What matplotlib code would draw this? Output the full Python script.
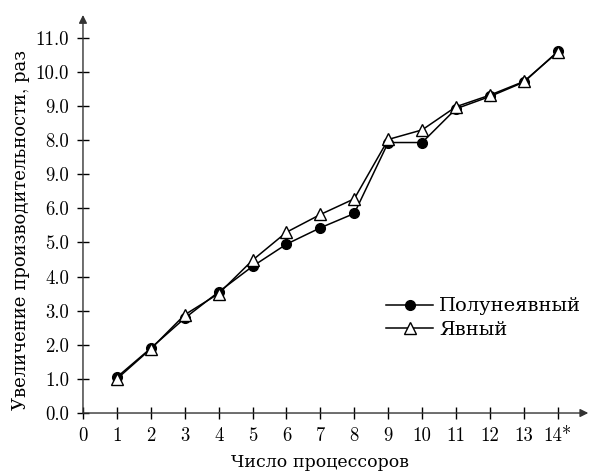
import matplotlib
matplotlib.use("Agg")
import matplotlib.pyplot as plt

plt.rcParams["font.family"] = ["cmr10", "DejaVu Serif"]
plt.rcParams["axes.formatter.use_mathtext"] = True

# processors and speedup values
processors = [1, 2, 3, 4, 5, 6, 7, 8, 9, 10, 11, 12, 13, 14]
semi_implicit = [1.05, 1.90, 2.78, 3.55, 4.30, 4.95, 5.43, 5.85, 7.93, 7.93, 8.92, 9.28, 9.70, 10.60]
explicit = [1.00, 1.88, 2.88, 3.50, 4.48, 5.30, 5.82, 6.28, 8.02, 8.30, 8.98, 9.32, 9.72, 10.58]

x_ticks = list(range(15))
x_labels = [str(i) for i in range(14)] + ["14*"]
y_ticks = list(range(12))
y_labels = ["0.0", "1.0", "2.0", "3.0", "4.0", "5.0", "6.0", "9.0", "8.0", "9.0", "10.0", "11.0"]

fig = plt.figure(figsize=(5.91, 4.75), dpi=100)
ax = fig.add_axes([0.1404, 0.1305, 0.855, 0.838])

ax.plot(processors, semi_implicit, color="black", lw=1.1, marker="o", ms=7,
        mfc="black", mec="black", label="Полунеявный", clip_on=False, zorder=3)
ax.plot(processors, explicit, color="black", lw=1.1, marker="^", ms=9,
        mfc="white", mec="black", mew=1.0, label="Явный", clip_on=False, zorder=4)

ax.set_xlim(0, 14.9)
ax.set_ylim(0, 11.67)
ax.set_xticks(x_ticks)
ax.set_xticklabels(x_labels)
ax.set_yticks(y_ticks)
ax.set_yticklabels(y_labels)
ax.tick_params(direction="inout", length=8, width=1.0, labelsize=13.5, pad=6)

for side in ["top", "right", "left", "bottom"]:
    ax.spines[side].set_visible(False)

# axes with arrow heads
ax.annotate("", xy=(1, 0), xytext=(0, 0), xycoords="axes fraction",
            arrowprops=dict(arrowstyle="-|>", color="#333333", lw=1.0,
                            mutation_scale=12, shrinkA=0, shrinkB=0))
ax.annotate("", xy=(0, 1), xytext=(0, 0), xycoords="axes fraction",
            arrowprops=dict(arrowstyle="-|>", color="#333333", lw=1.0,
                            mutation_scale=12, shrinkA=0, shrinkB=0))

ax.set_xlabel("Число процессоров", fontsize=12.5)
ax.xaxis.set_label_coords(0.47, -0.105)
ax.set_ylabel("Увеличение производительности, раз", fontsize=13)
ax.yaxis.set_label_coords(-0.105, 0.46)

ax.legend(loc="upper left", bbox_to_anchor=(0.585, 0.31), frameon=False,
          fontsize=14, handlelength=2.4, handletextpad=0.3, labelspacing=0.3,
          borderaxespad=0)

fig.savefig("out.png", dpi=100)
